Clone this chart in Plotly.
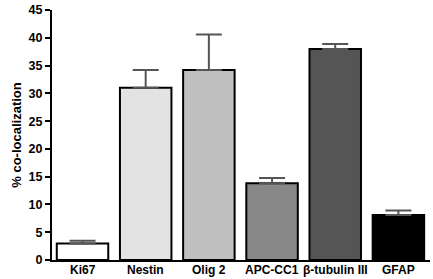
import plotly.graph_objects as go

categories = ["Ki67", "Nestin", "Olig 2", "APC-CC1", "β-tubulin III", "GFAP"]
values = [2.95, 31.0, 34.2, 13.8, 38.0, 8.1]
errors = [0.5, 3.2, 6.4, 0.95, 0.9, 0.8]
colors = ["#ffffff", "#e3e3e3", "#c0c0c0", "#888888", "#555555", "#000000"]
yticks = [0, 5, 10, 15, 20, 25, 30, 35, 40, 45]

font_family = "Liberation Sans, Arial, sans-serif"

fig = go.Figure(go.Bar(
    x=list(range(len(categories))),
    y=values,
    width=0.815,
    marker=dict(color=colors, line=dict(color="#000000", width=2)),
    error_y=dict(type="data", array=errors, arrayminus=[0]*len(errors), symmetric=False,
                 color="#555555", thickness=2, width=13),
))

for i, c in enumerate(categories):
    fig.add_annotation(x=i, y=0, xref="x", yref="y", yanchor="top", yshift=-1,
                       text="<b>%s</b>" % c, showarrow=False,
                       font=dict(size=12, family=font_family, color="#000000"))

fig.update_layout(
    width=433, height=279,
    margin=dict(l=52, r=3, t=6, b=19),
    paper_bgcolor="white", plot_bgcolor="white",
    showlegend=False,
    font=dict(family=font_family, color="#000000"),
    xaxis=dict(range=[-0.483, 5.5], showticklabels=False,
               showline=True, linecolor="#000000", linewidth=2, ticks="", showgrid=False,
               zeroline=False),
    yaxis=dict(range=[0, 45.02], tickvals=yticks, ticktext=["<b>%d</b>" % t for t in yticks],
               ticklabeloverflow="allow",
               showline=True, linecolor="#000000", linewidth=2,
               ticks="outside", ticklen=5, tickwidth=2, tickcolor="#000000", showgrid=False,
               zeroline=False, tickfont=dict(size=12.5),
               title=dict(text="<b>% co-localization</b>", font=dict(size=13), standoff=4)),
)

fig.write_html("out.html", config={"displayModeBar": False},
               post_script="document.body.style.margin='0';document.body.style.overflow='hidden';")
